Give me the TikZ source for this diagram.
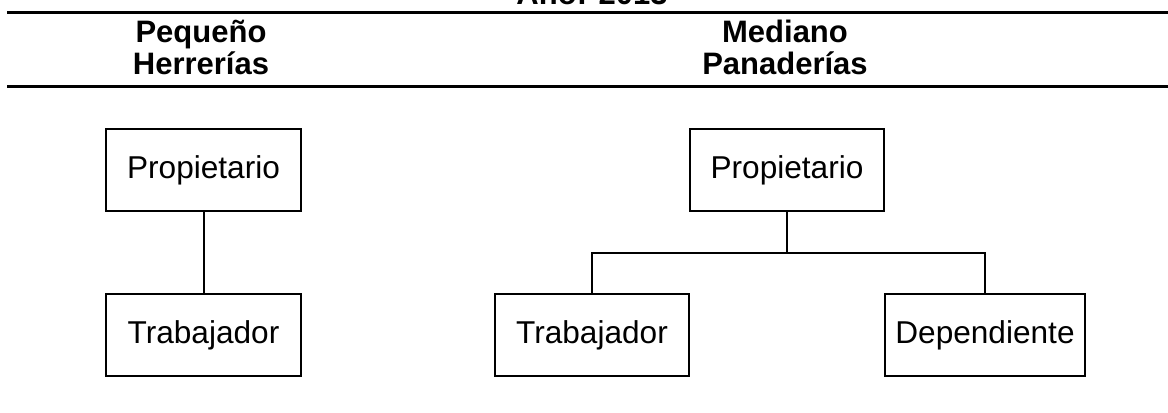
\documentclass[tikz,border=0pt]{standalone}
\usepackage{fontspec}
\setmainfont{Liberation Sans}
\tikzset{
  cargo/.style={draw,line width=1.5pt,minimum width=146pt,minimum height=61.5pt,inner sep=0pt,font=\fontsize{23.7}{28}\selectfont},
  encab/.style={anchor=base,inner sep=0pt,font=\fontsize{23.25}{28}\selectfont\bfseries},
  regla/.style={line width=1.8pt},
  enlace/.style={line width=1.5pt}
}
\begin{document}
\begin{tikzpicture}[x=0.75pt,y=-0.75pt]
  \clip (0,0) rectangle (1168,412);
  % encabezado de la tabla
  \node[encab] (anio) at (592,4) {Año: 2013};
  \draw[regla] (7,12.5) -- (1168,12.5);
  \node[encab] (pequeno) at (201,42) {Pequeño};
  \node[encab] (herrerias) at (201,74) {Herrerías};
  \node[encab] (mediano) at (785,42) {Mediano};
  \node[encab] (panaderias) at (785,74) {Panaderías};
  \draw[regla] (7,86.5) -- (1168,86.5);
  % herrerias
  \node[cargo] (hprop) at (203.5,170) {Propietario};
  \node[cargo] (htrab) at (203.5,335) {Trabajador};
  \draw[enlace] (hprop) -- (htrab);
  % panaderias
  \node[cargo] (pprop) at (787,170) {Propietario};
  \node[cargo] (ptrab) at (592,335) {Trabajador};
  \node[cargo,minimum width=150pt] (pdep) at (985,335) {Dependiente};
  \coordinate (pnudo) at (787,253);
  \draw[enlace] (pprop) -- (pnudo);
  \draw[enlace] (pnudo) -| (ptrab);
  \draw[enlace] (pnudo) -| (pdep);
\end{tikzpicture}
\end{document}
